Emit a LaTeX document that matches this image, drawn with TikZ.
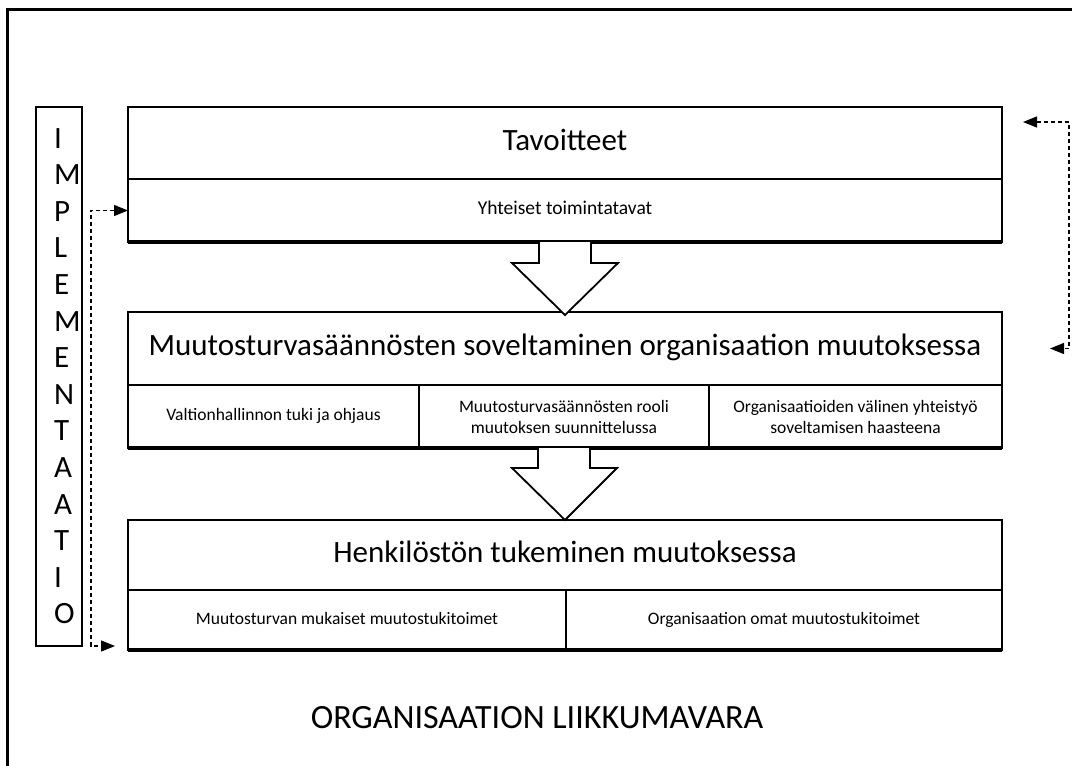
\documentclass[tikz,border=0pt]{standalone}
\usepackage{fontspec}
\setmainfont{Carlito}
\usetikzlibrary{arrows.meta,calc}

\begin{document}
\begin{tikzpicture}[x=1pt,y=-1pt,
  cell/.style={draw, line width=1.8pt, outer sep=0pt, inner sep=2pt,
    align=center, anchor=north west},
  bigtext/.style={font=\fontsize{31}{36}\selectfont, text height=21pt, text depth=7pt},
  smalltext/.style={font=\fontsize{17.5}{21}\selectfont},
  oneline/.style={text height=12pt, text depth=4pt},
  letter/.style={font=\fontsize{31}{34}\selectfont, anchor=base west, inner sep=0pt},
  heavy/.style={line width=3.5pt},
  blockarrow/.style={draw, fill=white, line width=1.8pt, line join=miter},
  dconn/.style={line width=1.3pt, dash pattern=on 4pt off 3pt},
]
\useasboundingbox (0,0) rectangle (1072,766);

% outer frame
\draw[line width=3pt] (7,766) -- (7,9) -- (1072,9);

% vertical label column
\node[draw, line width=1.8pt, outer sep=0pt, minimum width=46pt, minimum height=539pt,
  anchor=north west] (impl) at (36,107) {};
\foreach \ch [count=\i from 0] in {I,M,P,L,E,M,E,N,T,A,A,T,I,O}
  \node[letter] (ltr\i) at (54,{148+36.6*\i}) {\ch};

% goals block
\node[cell, bigtext, minimum width=874pt, minimum height=72pt] (tav) at (128,107) {Tavoitteet};
\node[cell, font=\fontsize{19.5}{23}\selectfont, oneline, minimum width=874pt, minimum height=63pt]
  (yht) at (128,179) {Yhteiset toimintatavat};
\draw[heavy] (yht.south west) -- (yht.south east);

% application block
\node[cell, bigtext, minimum width=874pt, minimum height=73pt] (muu) at (128,312)
  {Muutosturvasäännösten soveltaminen organisaation muutoksessa};
\node[cell, smalltext, oneline, minimum width=291pt, minimum height=63pt] (c1) at (128,385)
  {Valtionhallinnon tuki ja ohjaus};
\node[cell, smalltext, minimum width=290pt, minimum height=63pt] (c2) at (419,385)
  {Muutosturvasäännösten rooli\\muutoksen suunnittelussa};
\node[cell, smalltext, minimum width=293pt, minimum height=63pt] (c3) at (709,385)
  {Organisaatioiden välinen yhteistyö\\soveltamisen haasteena};
\draw[heavy] (c1.south west) -- (c3.south east);

% staff support block
\node[cell, bigtext, minimum width=874pt, minimum height=70pt] (hen) at (128,520)
  {Henkilöstön tukeminen muutoksessa};
\node[cell, smalltext, oneline, minimum width=438pt, minimum height=60pt] (m1) at (128,590)
  {Muutosturvan mukaiset muutostukitoimet};
\node[cell, smalltext, oneline, minimum width=436pt, minimum height=60pt] (m2) at (566,590)
  {Organisaation omat muutostukitoimet};
\draw[heavy] (m1.south west) -- (m2.south east);

% block arrows between the blocks
\filldraw[blockarrow] ($(yht.south)+(-26,0)$) -- ++(0,21) -- ++(-27,0)
  -- ($(muu.north)+(0,3)$) -- ($(yht.south)+(53,21)$) -- ++(-27,0) -- ($(yht.south)+(26,0)$);
\filldraw[blockarrow] ($(c2.south)+(-26,0)$) -- ++(0,20) -- ++(-26,0)
  -- ($(hen.north)+(0,0)$) -- ($(c2.south)+(53,20)$) -- ++(-27,0) -- ($(c2.south)+(26,0)$);

% dashed feedback connectors
\coordinate (implend) at ($(m1.south west)+(-13,-4)$);
\draw[dconn, {Triangle[length=14pt, width=11pt]}-{Triangle[length=14pt, width=11pt]}]
  (yht.west) -- ++(-37,0) |- (implend);
\coordinate (rtop) at ($(tav.north east)+(21,15)$);
\coordinate (rbot) at ($(muu.east)+(48,0)$);
\draw[dconn, {Triangle[length=14pt, width=11pt]}-{Triangle[length=14pt, width=11pt]}]
  (rtop) -- ++(46,0) |- (rbot);

% caption
\node[font=\fontsize{34}{39}\selectfont] (liikk) at (537,718) {ORGANISAATION LIIKKUMAVARA};
\end{tikzpicture}
\end{document}
